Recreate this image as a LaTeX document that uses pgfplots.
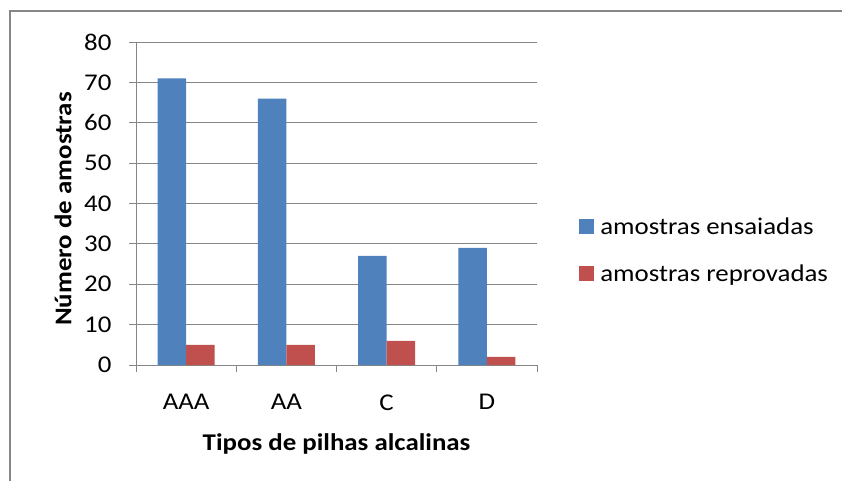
\documentclass[border=0pt]{standalone}
\usepackage{fontspec}
\setmainfont{Carlito}[FakeStretch=1.12]
\usepackage{pgfplots}
\pgfplotsset{compat=1.18}
\definecolor{cblue}{HTML}{4F81BD}
\definecolor{cred}{HTML}{C0504D}
\definecolor{cgrid}{HTML}{868686}
\begin{document}
\begin{tikzpicture}
\useasboundingbox (0,0) rectangle (842pt,-481pt);
\fill[white] (0,0) rectangle (842pt,-481pt);
\draw[cgrid, line width=1.3pt] (10pt,-481pt) -- (10pt,-11pt) -- (842pt,-11pt);
\begin{axis}[
  at={(136pt,-365pt)}, anchor=south west,
  width=401pt, height=323pt, scale only axis,
  xmin=-0.5, xmax=3.5, ymin=0, ymax=80,
  ybar=0pt, bar width=28.5pt,
  axis x line*=bottom, axis y line*=left,
  axis line style={cgrid, line width=1pt},
  xtick={0,1,2,3}, xticklabels={AAA,AA,C,D},
  minor xtick={-0.5,0.5,1.5,2.5,3.5},
  ytick={0,10,...,80},
  ymajorgrids, grid style={cgrid, line width=1pt},
  tick align=outside,
  major tick length=7pt, minor tick length=7pt,
  tick style={cgrid, line width=1pt},
  major x tick style={draw=none},
  /pgf/number format/assume math mode=true,
  ticklabel style={font=\fontsize{24}{28}\selectfont},
  yticklabel style={anchor=east, xshift=-14pt},
  xticklabel style={anchor=north, yshift=-19pt},
  xlabel={\bfseries Tipos de pilhas alcalinas},
  ylabel={\bfseries Número de amostras},
  label style={font=\fontsize{24}{28}\selectfont},
  xlabel style={at={(axis description cs:0.5,-0.243)}, anchor=center},
  ylabel style={at={(axis description cs:-0.182,0.483)}, anchor=center, rotate=0},
  legend style={at={(1.105,0.356)}, anchor=west, draw=none, fill=none,
    font=\fontsize{24}{28}\selectfont, row sep=25pt, inner sep=0pt,
    /tikz/every odd column/.append style={column sep=4pt},
    /tikz/every even column/.append style={column sep=0pt}},
  legend cell align=left,
]
\addplot[fill=cblue, draw=none, legend image code/.code={\fill[cblue] (0pt,-7.5pt) rectangle (15pt,7.5pt);}]
  coordinates {(0,71) (1,66) (2,27) (3,29)};
\addplot[fill=cred, draw=none, legend image code/.code={\fill[cred] (0pt,-7.5pt) rectangle (15pt,7.5pt);}]
  coordinates {(0,5) (1,5) (2,6) (3,2)};
\legend{amostras ensaiadas, amostras reprovadas}
\end{axis}
\end{tikzpicture}
\end{document}
